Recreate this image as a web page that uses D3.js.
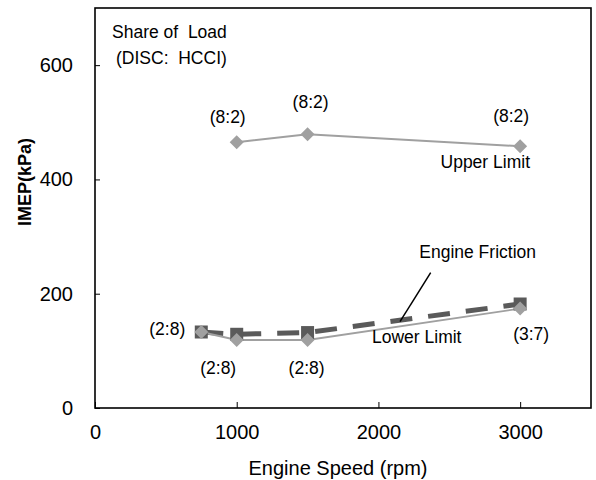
<!DOCTYPE html>
<html><head><meta charset="utf-8">
<script src="https://cdn.jsdelivr.net/npm/d3@7"></script>
<style>
body{margin:0;background:#fff;}
text{font-family:"Liberation Sans",Arial,sans-serif;fill:#000;}
</style></head>
<body><svg id="c" width="596" height="480"></svg>
<script>
// ---- data ----
const upperSpeeds = [1000, 1500, 3000];
const upperLimit  = [465, 479, 458];
const upperShare  = ["(8:2)", "(8:2)", "(8:2)"];

const lowerSpeeds    = [750, 1000, 1500, 3000];
const engineFriction = [133, 129, 132, 182];
const lowerLimit     = [133, 119, 119, 174];
const lowerShare     = ["(2:8)", "(2:8)", "(2:8)", "(3:7)"];

const xTicks = [0, 1000, 2000, 3000];
const yTicks = [0, 200, 400, 600];

// ---- layout ----
const svg = d3.select("#c");
const L = 95, R = 591, T = 8, B = 408;
const x = d3.scaleLinear().domain([0, 3500]).range([L, R]);
const y = d3.scaleLinear().domain([0, 700]).range([B, T]);

// frame
svg.append("rect").attr("x", L).attr("y", T).attr("width", R - L).attr("height", B - T)
  .attr("fill", "none").attr("stroke", "#000").attr("stroke-width", 1.6);

// axes with inward ticks
const xAxis = svg.append("g").attr("transform", `translate(0,${B})`)
  .call(d3.axisBottom(x).tickValues(xTicks).tickFormat(d3.format("d")).tickSizeInner(-6).tickSizeOuter(0).tickPadding(17));
const yAxis = svg.append("g").attr("transform", `translate(${L},0)`)
  .call(d3.axisLeft(y).tickValues(yTicks).tickFormat(d3.format("d")).tickSizeInner(-5).tickSizeOuter(0).tickPadding(22));
[xAxis, yAxis].forEach(g => {
  g.select(".domain").remove();
  g.selectAll(".tick line").attr("stroke", "#000").attr("stroke-width", 1);
  g.selectAll(".tick text").attr("font-size", 20).attr("font-family", '"Liberation Sans",Arial,sans-serif').attr("fill", "#000");
});

// axis titles
svg.append("text").attr("x", (L + R) / 2 - 5).attr("y", 475).attr("text-anchor", "middle")
  .attr("font-size", 20).text("Engine Speed (rpm)");
svg.append("text").attr("transform", "translate(31,182) rotate(-90)").attr("text-anchor", "middle")
  .attr("font-size", 18).attr("font-weight", "bold").text("IMEP(kPa)");

// lines
const up = upperSpeeds.map((s, i) => [s, upperLimit[i]]);
const fr = lowerSpeeds.map((s, i) => [s, engineFriction[i]]);
const lo = lowerSpeeds.map((s, i) => [s, lowerLimit[i]]);
const line = d3.line().x(d => x(d[0])).y(d => y(d[1]));

svg.append("path").datum(up).attr("d", line).attr("fill", "none").attr("stroke", "#a0a0a0").attr("stroke-width", 2);
svg.append("path").datum(fr).attr("d", line).attr("fill", "none").attr("stroke", "#5a5a5a")
  .attr("stroke-width", 5).attr("stroke-dasharray", "22,16");
svg.append("path").datum(lo).attr("d", line).attr("fill", "none").attr("stroke", "#a0a0a0").attr("stroke-width", 1.8);

// markers
svg.selectAll(".sq").data(fr).enter().append("rect")
  .attr("x", d => x(d[0]) - 6.5).attr("y", d => y(d[1]) - 6.5).attr("width", 13).attr("height", 13)
  .attr("fill", "#5a5a5a");
svg.selectAll(".dl").data(lo).enter().append("path")
  .attr("transform", d => `translate(${x(d[0])},${y(d[1])}) rotate(45)`)
  .attr("d", d3.symbol().type(d3.symbolSquare).size(98)).attr("fill", "#a0a0a0");
svg.selectAll(".du").data(up).enter().append("path")
  .attr("transform", d => `translate(${x(d[0])},${y(d[1])}) rotate(45)`)
  .attr("d", d3.symbol().type(d3.symbolSquare).size(98)).attr("fill", "#a0a0a0");

// share labels
const fs = 17.5;
const upOff = [[-9, -19], [3, -26], [-9, -24]];
svg.selectAll(".ul").data(up).enter().append("text")
  .attr("x", (d, i) => x(d[0]) + upOff[i][0]).attr("y", (d, i) => y(d[1]) + upOff[i][1])
  .attr("text-anchor", "middle").attr("font-size", fs).text((d, i) => upperShare[i]);
const loOff = [[-16, 3, "end"], [-18.5, 34, "middle"], [-1, 34, "middle"], [11, 31, "middle"]];
svg.selectAll(".ll").data(lo).enter().append("text")
  .attr("x", (d, i) => x(d[0]) + loOff[i][0]).attr("y", (d, i) => y(d[1]) + loOff[i][1])
  .attr("text-anchor", (d, i) => loOff[i][2]).attr("font-size", fs).text((d, i) => lowerShare[i]);

// annotations
svg.append("text").attr("x", 112).attr("y", 38).attr("font-size", fs).attr("xml:space", "preserve").text("Share of  Load");
svg.append("text").attr("x", 116).attr("y", 64).attr("font-size", fs).attr("xml:space", "preserve").text("(DISC:  HCCI)");
svg.append("text").attr("x", 530).attr("y", 168).attr("text-anchor", "end").attr("font-size", fs).text("Upper Limit");
svg.append("text").attr("x", 536).attr("y", 258).attr("text-anchor", "end").attr("font-size", fs).text("Engine Friction");
svg.append("text").attr("x", 372).attr("y", 343).attr("font-size", fs).text("Lower Limit");
svg.append("line").attr("x1", 430.7).attr("y1", 272.7).attr("x2", 400).attr("y2", 321.7)
  .attr("stroke", "#000").attr("stroke-width", 1.5);
</script></body></html>
